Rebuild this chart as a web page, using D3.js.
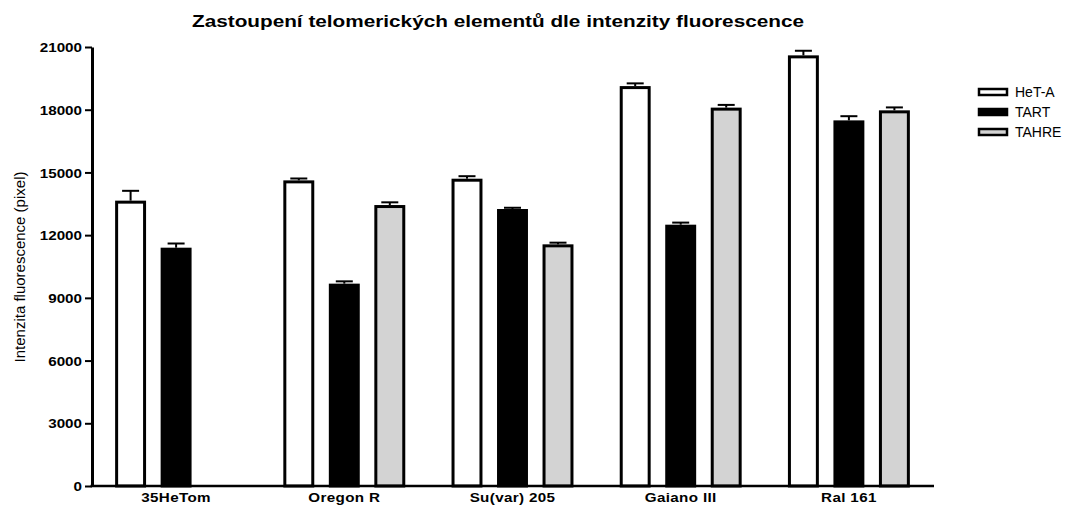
<!DOCTYPE html>
<html>
<head>
<meta charset="utf-8">
<script src="https://cdn.jsdelivr.net/npm/d3@7/dist/d3.min.js"></script>
<style>
  html, body { margin: 0; padding: 0; background: #fff; }
  svg { display: block; font-family: "Liberation Sans", Arial, sans-serif; }
</style>
</head>
<body>
<svg id="chart" width="1074" height="507"></svg>
<script>
// Strains on the x axis
const categories = ["35HeTom", "Oregon R", "Su(var) 205", "Gaiano III", "Ral 161"];
// Telomeric elements
const seriesNames = ["HeT-A", "TART", "TAHRE"];
const seriesFill = { "HeT-A": "#ffffff", "TART": "#000000", "TAHRE": "#d3d3d3" };
// Mean fluorescence intensity per strain (null = not measured)
const hetaValues  = [13650, 14620, 14700, 19130, 20600];
const tartValues  = [11400, 9680, 13250, 12500, 17490];
const tahreValues = [null, 13440, 11560, 18100, 17970];
// Error (upper SEM) per strain
const hetaErr  = [470, 90, 120, 130, 220];
const tartErr  = [200, 110, 60, 100, 200];
const tahreErr = [0, 130, 80, 130, 140];
// Y axis ticks
const yTicks = [0, 3000, 6000, 9000, 12000, 15000, 18000, 21000];

const values = { "HeT-A": hetaValues, "TART": tartValues, "TAHRE": tahreValues };
const errors = { "HeT-A": hetaErr, "TART": tartErr, "TAHRE": tahreErr };

const svg = d3.select("#chart");
const plotLeft = 92, plotRight = 933, plotTop = 47, plotBottom = 486;
const wide = 1.17; // horizontal stretch of the bold labels

const x0 = d3.scaleBand()
  .domain(categories)
  .range([plotLeft, plotRight])
  .paddingInner(0.275)
  .paddingOuter(0.1375);

const x1 = d3.scaleBand()
  .domain(seriesNames)
  .range([0, x0.bandwidth()])
  .paddingInner(0.32)
  .paddingOuter(0);

const y = d3.scaleLinear().domain([0, 21000]).range([plotBottom, plotTop]);

// Title
svg.append("text")
  .attr("x", 498).attr("y", 27)
  .attr("text-anchor", "middle")
  .attr("font-size", 16.5).attr("font-weight", "bold")
  .attr("textLength", 612).attr("lengthAdjust", "spacingAndGlyphs")
  .text("Zastoupení telomerických elementů dle intenzity fluorescence");

// Bars
const rows = [];
categories.forEach((c, i) => {
  seriesNames.forEach(s => {
    const v = values[s][i];
    if (v != null) rows.push({ c, s, v, e: errors[s][i] });
  });
});

const g = svg.append("g");
const cx = d => x0(d.c) + x1(d.s) + x1.bandwidth() / 2;

// Error bars (upper only), drawn beneath bars
const eb = g.selectAll("g.err").data(rows).join("g").attr("class", "err");
eb.append("line")
  .attr("x1", cx).attr("x2", cx)
  .attr("y1", d => y(d.v))
  .attr("y2", d => y(d.v + d.e))
  .attr("stroke", "#000").attr("stroke-width", 2);
eb.append("line")
  .attr("x1", d => cx(d) - 8.5)
  .attr("x2", d => cx(d) + 8.5)
  .attr("y1", d => y(d.v + d.e))
  .attr("y2", d => y(d.v + d.e))
  .attr("stroke", "#000").attr("stroke-width", 2);

g.selectAll("rect.bar").data(rows).join("rect")
  .attr("class", "bar")
  .attr("x", d => x0(d.c) + x1(d.s) + 1.5)
  .attr("width", x1.bandwidth() - 3)
  .attr("y", d => y(d.v) + 1.5)
  .attr("height", d => y(0) - y(d.v) - 1.5)
  .attr("fill", d => seriesFill[d.s])
  .attr("stroke", "#000")
  .attr("stroke-width", 3);

// Y axis
const yAxis = svg.append("g")
  .attr("transform", `translate(${plotLeft},0)`)
  .call(d3.axisLeft(y).tickValues(yTicks).tickSize(7).tickSizeOuter(0).tickFormat(d3.format("d")));
yAxis.select(".domain").attr("stroke-width", 3);
yAxis.selectAll(".tick line").attr("stroke-width", 2);
yAxis.selectAll(".tick text")
  .attr("font-size", 13).attr("font-weight", "bold")
  .attr("font-family", "Liberation Sans, Arial, sans-serif")
  .attr("x", -10 / wide).attr("dy", "0.36em")
  .attr("transform", `scale(${wide},1)`)
  .attr("fill", "#000");

// X axis line and category labels
const xAxis = svg.append("g")
  .attr("transform", `translate(0,${y(0)})`)
  .call(d3.axisBottom(x0).tickSize(0).tickSizeOuter(0).tickPadding(7));
xAxis.select(".domain").attr("stroke-width", 2.5).attr("d", `M${plotLeft - 1.5},0H934`);
const labelShift = x1("TART") + x1.bandwidth() / 2 - x0.bandwidth() / 2;
xAxis.selectAll(".tick text")
  .attr("x", labelShift / wide)
  .attr("transform", `scale(${wide},1)`)
  .attr("font-size", 13).attr("font-weight", "bold")
  .attr("font-family", "Liberation Sans, Arial, sans-serif")
  .attr("letter-spacing", 0.3)
  .attr("fill", "#000");

// Y axis label
svg.append("text")
  .attr("transform", "translate(25,267) rotate(-90)")
  .attr("text-anchor", "middle")
  .attr("font-size", 15)
  .text("Intenzita fluorescence (pixel)");

// Legend
const legend = svg.append("g").attr("transform", "translate(979,89)");
seriesNames.forEach((s, i) => {
  const row = legend.append("g").attr("transform", `translate(0,${i * 20})`);
  row.append("rect")
    .attr("x", 0).attr("y", 0).attr("width", 28).attr("height", 6)
    .attr("fill", seriesFill[s]).attr("stroke", "#000").attr("stroke-width", 2.5);
  row.append("text")
    .attr("x", 36).attr("y", 8)
    .attr("font-size", 14)
    .text(s);
});
</script>
</body>
</html>
